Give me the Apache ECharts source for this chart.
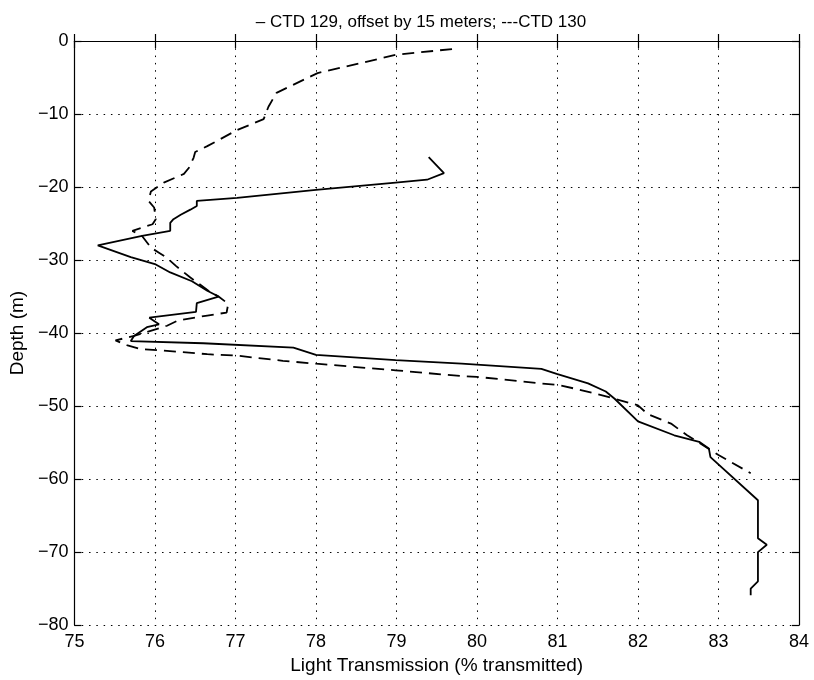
<!DOCTYPE html>
<html>
<head>
<meta charset="utf-8">
<script src="https://cdn.jsdelivr.net/npm/echarts@6/dist/echarts.min.js"></script>
<style>
html,body{margin:0;padding:0;background:#fff;}
#chart{width:814px;height:680px;}
</style>
</head>
<body>
<div id="chart"></div>
<script>
// CTD 129 (offset by 15 m) - solid line
var ctd129Trans = [79.40,79.59,79.38,78.99,78.00,77.02,76.52,76.52,76.44,76.32,76.23,76.19,76.19,75.84,75.29,75.70,76.01,76.19,76.46,76.65,76.79,76.52,76.51,75.93,76.05,75.90,75.74,75.70,76.60,77.72,78.00,78.99,79.81,80.80,80.99,81.38,81.60,81.71,82.00,82.45,82.76,82.88,82.90,82.90,83.49,83.49,83.60,83.49,83.49,83.40,83.40];
var ctd129Depth = [-15.9,-18.1,-19.0,-19.4,-20.4,-21.5,-21.9,-22.6,-23.1,-23.8,-24.4,-24.9,-26.0,-26.7,-28.0,-29.6,-30.6,-31.7,-32.9,-34.2,-35.0,-35.9,-37.1,-37.9,-38.8,-39.2,-40.4,-41.1,-41.4,-42.0,-43.0,-43.7,-44.2,-44.9,-45.6,-46.9,-48.0,-49.0,-52.1,-54.0,-54.9,-55.8,-56.0,-57.0,-62.9,-68.1,-69.0,-70.0,-74.0,-75.0,-75.9];
// CTD 130 - dashed line
var ctd130Trans = [79.69,78.99,78.02,77.51,77.41,77.35,77.02,76.65,76.50,76.48,76.42,76.36,76.11,75.95,75.92,75.99,76.01,75.97,75.72,75.84,75.95,76.05,76.15,76.26,76.44,76.69,76.79,76.91,76.89,76.65,76.28,76.15,75.74,75.51,75.66,75.82,76.11,76.65,77.02,77.35,77.59,78.00,78.99,79.81,80.00,80.80,81.00,81.21,81.58,82.00,82.12,82.41,82.61,83.00,83.40];
var ctd130Depth = [-1.1,-1.9,-4.4,-7.1,-9.0,-10.7,-12.2,-14.4,-15.2,-16.0,-17.4,-18.2,-19.4,-20.6,-21.9,-22.8,-24.4,-25.1,-26.0,-26.7,-28.3,-29.0,-29.7,-30.8,-32.4,-34.4,-35.0,-36.0,-37.2,-37.6,-38.3,-39.0,-40.4,-41.0,-41.7,-42.2,-42.4,-42.9,-43.1,-43.5,-43.8,-44.2,-45.1,-45.9,-46.0,-46.9,-47.1,-47.6,-48.6,-49.9,-51.1,-52.4,-54.0,-56.7,-59.2];

var titleText = '\u2013 CTD 129, offset by 15 meters; ---CTD 130';
var xName = 'Light Transmission (% transmitted)';
var yName = 'Depth (m)';

function pairs(xs, ys){ var o=[]; for(var i=0;i<xs.length;i++) o.push([xs[i], ys[i]]); return o; }
var FONT = '"Liberation Sans", Arial, Helvetica, sans-serif';
var gridLine = {show:true, lineStyle:{color:'#000', width:1, type:[1.5,5.8]}};
var chart = echarts.init(document.getElementById('chart'), null, {renderer:'canvas'});
chart.setOption({
  animation:false,
  backgroundColor:'#fff',
  title:{text:titleText, left:416, top:9, textAlign:'center',
    textStyle:{fontFamily:FONT, fontSize:17, fontWeight:'normal', color:'#000'}},
  grid:{left:70, right:15, top:41, bottom:53},
  xAxis:[{
    type:'value', min:75, max:84, interval:1, position:'bottom',
    name:xName, nameLocation:'middle', nameGap:29,
    nameTextStyle:{fontFamily:FONT, fontSize:19, color:'#000'},
    axisLine:{show:true, lineStyle:{color:'#000', width:1.2}},
    axisTick:{show:true, inside:true, length:7, lineStyle:{color:'#000', width:1.2}},
    axisLabel:{fontFamily:FONT, fontSize:18, color:'#000', margin:8},
    splitLine:gridLine
  },{
    type:'value', min:75, max:84, interval:1, position:'top',
    axisLine:{show:true, lineStyle:{color:'#000', width:1.2}},
    axisTick:{show:true, inside:true, length:7, lineStyle:{color:'#000', width:1.2}},
    axisLabel:{show:false}, splitLine:{show:false}
  }],
  yAxis:[{
    type:'value', min:-80, max:0, interval:10, position:'left',
    name:yName, nameLocation:'middle', nameGap:42, nameRotate:90,
    nameTextStyle:{fontFamily:FONT, fontSize:19, color:'#000'},
    axisLine:{show:true, lineStyle:{color:'#000', width:1.2}},
    axisTick:{show:true, inside:true, length:7, lineStyle:{color:'#000', width:1.2}},
    axisLabel:{fontFamily:FONT, fontSize:18, color:'#000', margin:6,
      formatter:function(v){ return String(v).replace('-', '\u2212'); }},
    splitLine:gridLine
  },{
    type:'value', min:-80, max:0, interval:10, position:'right',
    axisLine:{show:true, lineStyle:{color:'#000', width:1.2}},
    axisTick:{show:true, inside:true, length:7, lineStyle:{color:'#000', width:1.2}},
    axisLabel:{show:false}, splitLine:{show:false}
  }],
  series:[{
    name:'CTD 129', type:'line', data:pairs(ctd129Trans, ctd129Depth),
    xAxisIndex:0, yAxisIndex:0, showSymbol:false, symbol:'none',
    lineStyle:{color:'#000', width:1.8, type:'solid'}, z:3
  },{
    name:'CTD 130', type:'line', data:pairs(ctd130Trans, ctd130Depth),
    xAxisIndex:0, yAxisIndex:0, showSymbol:false, symbol:'none',
    lineStyle:{color:'#000', width:1.8, type:[12,7]}, z:3
  }]
});
</script>
</body>
</html>
